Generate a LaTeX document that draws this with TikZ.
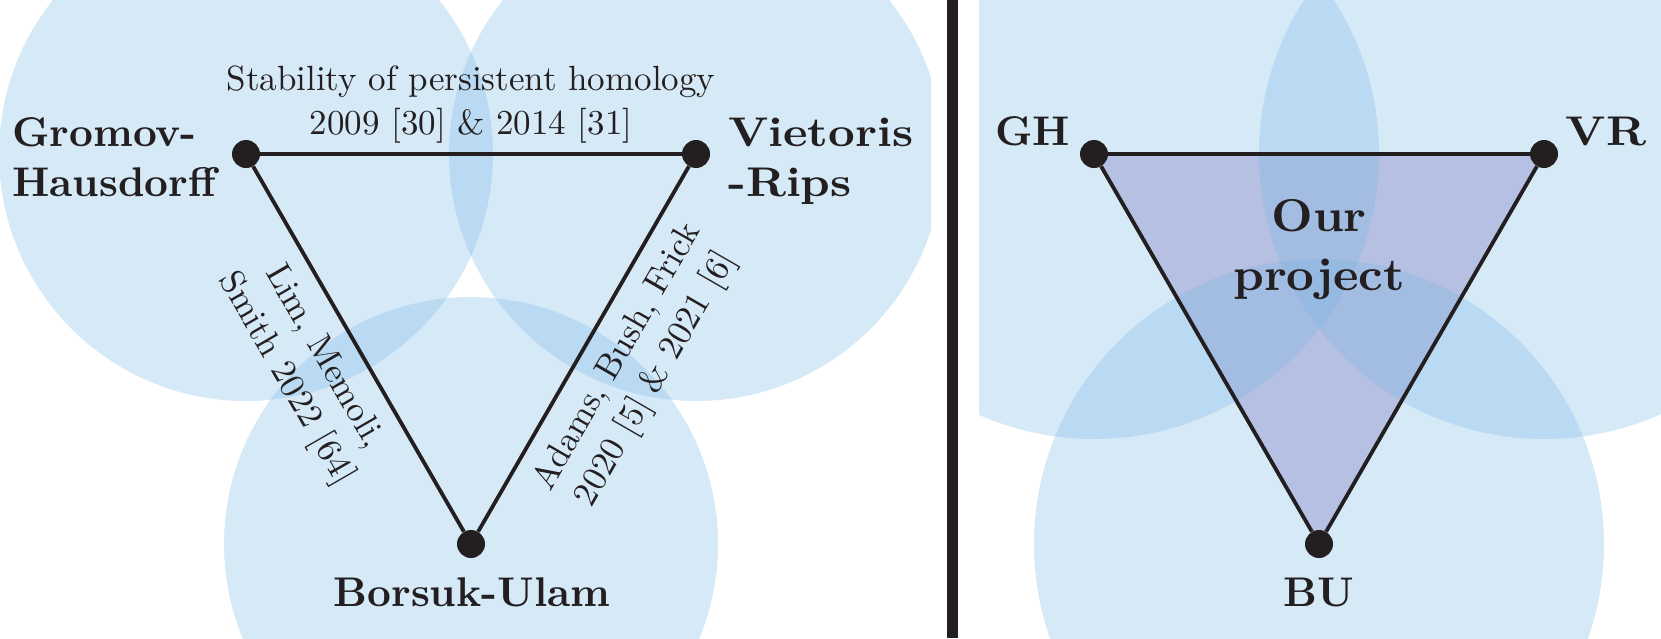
\documentclass[tikz,border=0pt]{standalone}
\usepackage{fontspec}
\setmainfont{lmroman10-regular.otf}[BoldFont=lmroman10-bold.otf]
\usepackage{tikz}
\definecolor{ink}{RGB}{35,31,32}
\definecolor{circblue}{RGB}{120,181,229}
\definecolor{trifill}{RGB}{209,197,225}
\begin{document}
\begin{tikzpicture}[x=1pt,y=-1pt,
  dot/.style={circle,fill=ink,inner sep=0pt,minimum size=28pt},
  edge/.style={draw=ink,line width=3.8pt},
  disc/.style={fill=circblue,fill opacity=0.3},
  biglabel/.style={font=\fontsize{41.5}{50}\selectfont\bfseries,text=ink,inner sep=0pt},
  smalllabel/.style={font=\fontsize{35}{44}\selectfont,text=ink,inner sep=0pt},
]
\useasboundingbox (0,0) rectangle (1661,638);
% ---------- left panel ----------
\coordinate (lgh) at (246,154);
\coordinate (lvr) at (696,154);
\coordinate (lbu) at (471,544);
\begin{scope}
  \clip (0,0) rectangle (931,638);
  \fill[disc] (lgh) circle[radius=247pt];
  \fill[disc] (lvr) circle[radius=247pt];
  \fill[disc] (lbu) circle[radius=247pt];
\end{scope}
\node[dot] (LGH) at (lgh) {};
\node[dot] (LVR) at (lvr) {};
\node[dot] (LBU) at (lbu) {};
\draw[edge] (LGH) -- (LVR);
\draw[edge] (LGH) -- (LBU);
\draw[edge] (LVR) -- (LBU);
\node[biglabel,anchor=base west] (tgh) at (12,146.5)
  {\begin{tabular}[t]{@{}l@{}}Gromov-\\Hausdorff\end{tabular}};
\node[biglabel,anchor=base west,xscale=1.12] (tvr) at (728,146.5)
  {\begin{tabular}[t]{@{}l@{}}Vietoris\\-Rips\end{tabular}};
\node[biglabel,anchor=base] (tbu) at (472,606.5) {Borsuk-Ulam};
\node[smalllabel,anchor=base] (tstab) at (471,90)
  {\begin{tabular}[t]{@{}c@{}}Stability of persistent homology\\2009 [30] \& 2014 [31]\end{tabular}};
\node[smalllabel,anchor=center,rotate=-60] (tlim) at (305,368)
  {\begin{tabular}{@{}c@{}}Lim, Memoli,\\Smith 2022 [64]\end{tabular}};
\node[smalllabel,anchor=center,rotate=60] (tadams) at (637,368)
  {\begin{tabular}{@{}c@{}}Adams, Bush, Frick\\2020 [5] \& 2021 [6]\end{tabular}};
% ---------- separator ----------
\draw[ink,line width=10.4pt] (952.5,0) -- (952.5,638);
% ---------- right panel ----------
\coordinate (rgh) at (1094,154);
\coordinate (rvr) at (1544,154);
\coordinate (rbu) at (1319,544);
\fill[trifill] (rgh) -- (rvr) -- (rbu) -- cycle;
\begin{scope}
  \clip (979,0) rectangle (1661,638);
  \fill[disc] (rgh) circle[radius=285pt];
  \fill[disc] (rvr) circle[radius=285pt];
  \fill[disc] (rbu) circle[radius=285pt];
\end{scope}
\node[dot] (RGH) at (rgh) {};
\node[dot] (RVR) at (rvr) {};
\node[dot] (RBU) at (rbu) {};
\draw[edge] (RGH) -- (RVR);
\draw[edge] (RGH) -- (RBU);
\draw[edge] (RVR) -- (RBU);
\node[biglabel,anchor=base west] (tgh2) at (995,145) {GH};
\node[biglabel,anchor=base west,xscale=1.12] (tvr2) at (1565.5,145) {VR};
\node[biglabel,anchor=base] (tbu2) at (1319,606.5) {BU};
\node[biglabel,anchor=base,font=\fontsize{46}{59}\selectfont\bfseries,xscale=1.05] (tour) at (1319,231.5)
  {\begin{tabular}[t]{@{}c@{}}Our\\project\end{tabular}};
\end{tikzpicture}
\end{document}
